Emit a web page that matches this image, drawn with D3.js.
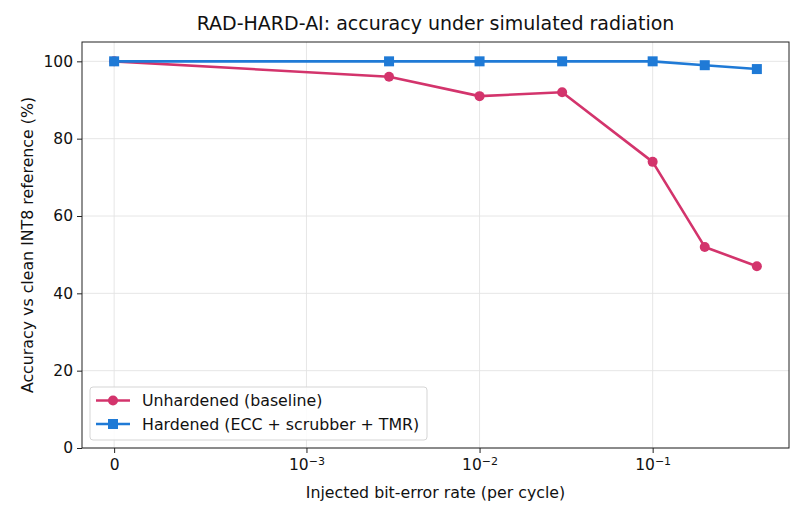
<!DOCTYPE html>
<html>
<head>
<meta charset="utf-8">
<script src="https://cdn.jsdelivr.net/npm/d3@7"></script>
<style>
  body { margin: 0; background: #fff; }
  text { font-family: "DejaVu Sans", sans-serif; fill: #111; }
</style>
</head>
<body>
<div id="chart"></div>
<script>
// bit-error rates (x) and accuracy (%) for both variants
const rates = [0, 0.003, 0.01, 0.03, 0.1, 0.2, 0.4];
const unhardened = [100, 96, 91, 92, 74, 52, 47];
const hardened = [100, 100, 100, 100, 100, 99, 98];
const xTicks = [0, 1e-3, 1e-2, 1e-1];
const xTickLabels = ["0", "10^-3", "10^-2", "10^-1"];
const yTicks = [0, 20, 40, 60, 80, 100];
const seriesNames = ["Unhardened (baseline)", "Hardened (ECC + scrubber + TMR)"];

const W = 806, H = 518;
const margin = { top: 42, right: 17, bottom: 70, left: 82 };
const width = W - margin.left - margin.right;
const height = H - margin.top - margin.bottom;

// matplotlib-style symlog, linthresh 1e-3, linscale 1
const linthresh = 1e-3;
const linscaleAdj = 1 / (1 - 1 / 10);
function symlog(x) {
    const a = Math.abs(x);
    const v = a <= linthresh ? (a / linthresh) * linscaleAdj : linscaleAdj + Math.log10(a / linthresh);
    return Math.sign(x) * v;
}

const tMax = symlog(d3.max(rates));
const pad = tMax * 0.05;
const xLin = d3.scaleLinear().domain([-pad, tMax + pad]).range([0, width]);
const x = v => xLin(symlog(v));
const y = d3.scaleLinear().domain([0, 105]).range([height, 0]);

const svg = d3.select("#chart").append("svg")
    .attr("width", W).attr("height", H);

svg.append("text")
    .attr("x", margin.left + width / 2).attr("y", 30)
    .attr("text-anchor", "middle")
    .style("font-size", "19px")
    .text("RAD-HARD-AI: accuracy under simulated radiation");

const g = svg.append("g").attr("transform", `translate(${margin.left},${margin.top})`);

// grid
g.append("g").selectAll("line").data(yTicks).join("line")
    .attr("x1", 0).attr("x2", width)
    .attr("y1", d => y(d)).attr("y2", d => y(d))
    .attr("stroke", "#e3e3e3").attr("stroke-width", 0.9);
g.append("g").selectAll("line").data(xTicks).join("line")
    .attr("x1", d => x(d)).attr("x2", d => x(d))
    .attr("y1", 0).attr("y2", height)
    .attr("stroke", "#e3e3e3").attr("stroke-width", 0.9);

// axes
const yAxis = g.append("g").call(d3.axisLeft(y).tickValues(yTicks).tickSize(5).tickPadding(4));
yAxis.select(".domain").remove();
yAxis.selectAll("text").style("font-size", "15.5px").attr("fill", "#111");
yAxis.selectAll("line").attr("stroke", "#222");

const xAxis = g.append("g").attr("transform", `translate(0,${height})`)
    .call(d3.axisBottom(xLin).tickValues(xTicks.map(symlog)).tickSize(5).tickPadding(6).tickFormat(() => ""));
xAxis.select(".domain").remove();
xAxis.selectAll("line").attr("stroke", "#222");
xAxis.selectAll(".tick").each(function(d, i) {
    const t = d3.select(this).select("text").style("font-size", "15.5px").attr("fill", "#111");
    const lab = xTickLabels[i];
    if (lab.includes("^")) {
        const [base, ex] = lab.split("^");
        t.append("tspan").text(base);
        t.append("tspan").attr("dy", "-0.45em").style("font-size", "11px").text(ex.replace("-", "\u2212"));
    } else {
        t.text(lab);
    }
});

g.append("rect")
    .attr("width", width).attr("height", height)
    .attr("fill", "none").attr("stroke", "#222").attr("stroke-width", 1);

// axis labels
svg.append("text")
    .attr("x", margin.left + width / 2).attr("y", 498)
    .attr("text-anchor", "middle").style("font-size", "15.8px")
    .text("Injected bit-error rate (per cycle)");
svg.append("text")
    .attr("transform", `translate(33,${margin.top + height / 2}) rotate(-90)`)
    .attr("text-anchor", "middle").style("font-size", "15.8px")
    .text("Accuracy vs clean INT8 reference (%)");

const colors = ["#d3346c", "#1f7ad6"];
const series = [unhardened, hardened];
const line = d3.line().x((d, i) => x(rates[i])).y(d => y(d));

series.forEach((vals, s) => {
    g.append("path").datum(vals)
        .attr("fill", "none").attr("stroke", colors[s])
        .attr("stroke-width", 2.6).attr("stroke-linejoin", "round")
        .attr("d", line);
    if (s === 0) {
        g.selectAll(".pt0").data(vals).join("circle").attr("class", "pt0")
            .attr("cx", (d, i) => x(rates[i])).attr("cy", d => y(d))
            .attr("r", 5).attr("fill", colors[s]);
    } else {
        g.selectAll(".pt1").data(vals).join("rect").attr("class", "pt1")
            .attr("x", (d, i) => x(rates[i]) - 5).attr("y", d => y(d) - 5)
            .attr("width", 10).attr("height", 10).attr("fill", colors[s]);
    }
});

// legend
const lg = svg.append("g").attr("transform", "translate(90,387)");
lg.append("rect").attr("width", 337).attr("height", 53).attr("rx", 3)
    .attr("fill", "rgba(255,255,255,0.85)").attr("stroke", "#d5d5d5");
seriesNames.forEach((name, i) => {
    const yy = 13.5 + i * 23.5;
    lg.append("line").attr("x1", 6).attr("x2", 40).attr("y1", yy).attr("y2", yy)
        .attr("stroke", colors[i]).attr("stroke-width", 2.6);
    if (i === 0) lg.append("circle").attr("cx", 23).attr("cy", yy).attr("r", 5).attr("fill", colors[i]);
    else lg.append("rect").attr("x", 18).attr("y", yy - 5).attr("width", 10).attr("height", 10).attr("fill", colors[i]);
    lg.append("text").attr("x", 52).attr("y", yy + 5.5).style("font-size", "15.8px").text(name);
});
</script>
</body>
</html>
